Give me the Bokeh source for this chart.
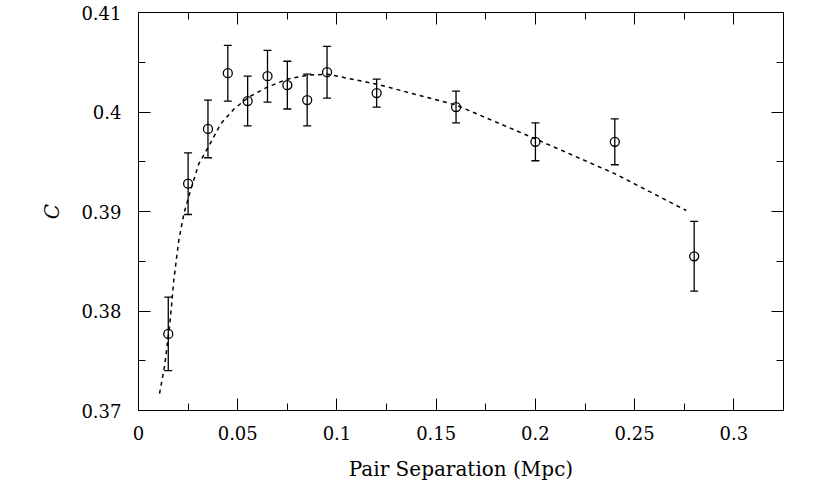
from bokeh.plotting import figure
from bokeh.models import (ColumnDataSource, Whisker, TeeHead, LinearAxis,
                          FixedTicker, Range1d)
from bokeh.embed import file_html
from bokeh.resources import INLINE

# ---- data ----
separation = [0.015, 0.025, 0.035, 0.045, 0.055, 0.065, 0.075, 0.085, 0.095,
              0.12, 0.16, 0.20, 0.24, 0.28]
c_value = [0.3777, 0.3928, 0.3983, 0.4039, 0.4011, 0.4036, 0.4027, 0.4012,
           0.4040, 0.4019, 0.4005, 0.3970, 0.3970, 0.3855]
c_error = [0.0037, 0.0031, 0.0029, 0.0028, 0.0025, 0.0026, 0.0024, 0.0026,
           0.0026, 0.0014, 0.0016, 0.0019, 0.0023, 0.0035]

fit_x = [0.0106, 0.0131, 0.0158, 0.0178, 0.0203, 0.0229, 0.0262, 0.0304,
         0.0355, 0.0414, 0.0481, 0.0556, 0.0649, 0.075, 0.0851, 0.0952,
         0.12, 0.16, 0.20, 0.24, 0.276]
fit_y = [0.3717, 0.3744, 0.3787, 0.3831, 0.3871, 0.3898, 0.3921, 0.3948,
         0.3966, 0.3988, 0.4003, 0.4015, 0.4025, 0.4033, 0.4037, 0.4038,
         0.4028, 0.4007, 0.3973, 0.3938, 0.3901]

x_ticks = [0, 0.05, 0.1, 0.15, 0.2, 0.25, 0.3]
x_tick_labels = ["0", "0.05", "0.1", "0.15", "0.2", "0.25", "0.3"]
x_minor = [0.025, 0.075, 0.125, 0.175, 0.225, 0.275, 0.325]
y_ticks = [0.37, 0.38, 0.39, 0.40, 0.41]
y_tick_labels = ["0.37", "0.38", "0.39", "0.4", "0.41"]
y_minor = [0.375, 0.385, 0.395, 0.405]

FONT = "DejaVu Serif"

src = ColumnDataSource(dict(
    x=separation, y=c_value,
    upper=[v + e for v, e in zip(c_value, c_error)],
    lower=[v - e for v, e in zip(c_value, c_error)],
))

p = figure(output_backend="svg", toolbar_location=None,
           frame_width=645, frame_height=398,
           min_border_left=138, min_border_right=30,
           min_border_top=12, min_border_bottom=70,
           x_range=Range1d(0, 0.325), y_range=Range1d(0.37, 0.41),
           x_axis_label="Pair Separation (Mpc)", y_axis_label="C")
p.grid.visible = False
p.outline_line_color = "black"
p.outline_line_width = 1
p.background_fill_color = "white"
p.border_fill_color = "white"

# fit curve
p.line(fit_x, fit_y, line_color="black", line_width=1.5, line_dash="4 4")

# error bars
wh = Whisker(source=src, base="x", upper="upper", lower="lower",
             dimension="height", line_color="black", line_width=1.3,
             upper_head=TeeHead(size=8, line_color="black", line_width=1.3),
             lower_head=TeeHead(size=8, line_color="black", line_width=1.3))
p.add_layout(wh)

p.scatter("x", "y", source=src, marker="circle", size=9,
          fill_alpha=0, line_color="black", line_width=1.3)

def style_axis(ax, ticks, minor, labels, show_labels):
    ax.ticker = FixedTicker(ticks=ticks, minor_ticks=minor)
    ax.major_tick_in = 12
    ax.major_tick_out = 0
    ax.minor_tick_in = 7
    ax.minor_tick_out = 0
    ax.major_tick_line_color = "black"
    ax.minor_tick_line_color = "black"
    ax.major_tick_line_width = 1
    ax.minor_tick_line_width = 1
    ax.axis_line_color = "black"
    if show_labels:
        ax.major_label_overrides = {t: l for t, l in zip(ticks, labels)}
        ax.major_label_text_font = FONT
        ax.major_label_text_font_size = "18px"
        ax.major_label_text_color = "black"
        ax.axis_label_text_font = FONT
        ax.axis_label_text_font_size = "20px"
        ax.axis_label_text_font_style = "normal"
        ax.axis_label_text_color = "black"
    else:
        ax.major_label_text_color = None
        ax.major_label_text_font_size = "8px"
        ax.major_label_standoff = 0
        ax.axis_label = None

style_axis(p.xaxis[0], x_ticks, x_minor, x_tick_labels, True)
style_axis(p.yaxis[0], y_ticks, y_minor, y_tick_labels, True)
p.xaxis[0].major_label_standoff = 15
p.xaxis[0].axis_label_standoff = 14
p.yaxis[0].major_label_standoff = 17
p.yaxis[0].axis_label_standoff = 14
p.yaxis[0].axis_label_text_font_style = "italic"

top = LinearAxis()
right = LinearAxis()
p.add_layout(top, "above")
p.add_layout(right, "right")
style_axis(top, x_ticks, x_minor, x_tick_labels, False)
style_axis(right, y_ticks, y_minor, y_tick_labels, False)

open("out.html", "w").write(file_html(p, INLINE))
